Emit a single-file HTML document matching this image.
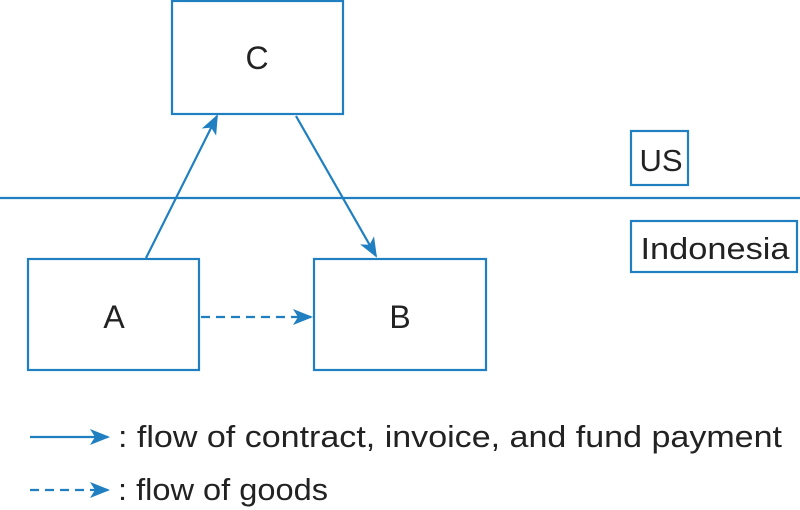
<!DOCTYPE html><html><head><style>body{margin:0;background:#fff}svg{display:block}</style></head><body>
<svg width="800" height="510" viewBox="0 0 800 510" xmlns="http://www.w3.org/2000/svg">
<defs>
<marker id="b" markerWidth="20" markerHeight="20" refX="18" refY="10" orient="auto" markerUnits="userSpaceOnUse" viewBox="0 0 20 20"><path d="M0,2 L20,10 L0,18 L5,10z" fill="#1f7fc0"/></marker></defs>
<g fill="none" stroke="#1f7fc0" stroke-width="2.2">
<rect x="172" y="1" width="171" height="113"/>
<rect x="28" y="259" width="171" height="111"/>
<rect x="314" y="259" width="172" height="111"/>
<rect x="631" y="131" width="57" height="54"/>
<rect x="631" y="221" width="166" height="51"/>
<line x1="0" y1="198" x2="800" y2="198"/>
<line x1="146" y1="258" x2="217" y2="116" marker-end="url(#b)"/>
<line x1="296" y1="116" x2="376" y2="256" marker-end="url(#b)"/>
<line x1="201" y1="317" x2="311" y2="317" stroke-dasharray="9,6" marker-end="url(#b)"/>
<line x1="30" y1="437" x2="108" y2="437" marker-end="url(#b)"/>
<line x1="30" y1="490" x2="108" y2="490" stroke-dasharray="9,6" marker-end="url(#b)"/>
</g>
<g font-family="Liberation Sans, sans-serif" fill="#222" font-size="32" text-anchor="middle">
<text x="257" y="69">C</text><text x="114" y="328">A</text><text x="400" y="328">B</text>
<text x="661" y="171" font-size="31">US</text>
<text x="715" y="259" font-size="31" textLength="149" lengthAdjust="spacingAndGlyphs">Indonesia</text>
</g>
<g font-family="Liberation Sans, sans-serif" fill="#222" font-size="31">
<text x="118" y="447" textLength="664" lengthAdjust="spacingAndGlyphs">: flow of contract, invoice, and fund payment</text>
<text x="118" y="500" textLength="210" lengthAdjust="spacingAndGlyphs">: flow of goods</text>
</g>
</svg></body></html>
